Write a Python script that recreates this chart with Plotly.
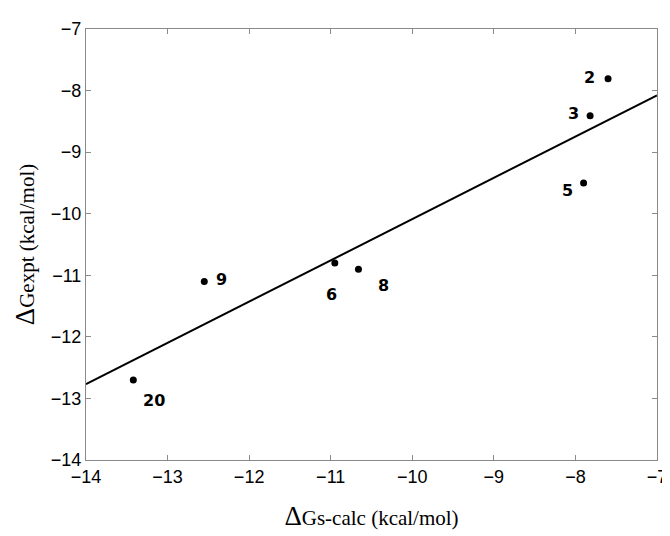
import numpy as np
import plotly.graph_objects as go

labels = ["2", "3", "5", "9", "6", "8", "20"]
dg_calc = [-7.60, -7.82, -7.90, -12.55, -10.95, -10.66, -13.42]
dg_expt = [-7.81, -8.41, -9.50, -11.10, -10.80, -10.90, -12.70]
x_ticks = [-14, -13, -12, -11, -10, -9, -8, -7]
y_ticks = [-14, -13, -12, -11, -10, -9, -8, -7]

# label offsets in pixels (dx, dy)
label_dx = [-19, -17, -16, 17, -3, 25, 21]
label_dy = [1, 2, -8, 2, -32, -16, -21]

slope, intercept = np.polyfit(dg_calc, dg_expt, 1)
line_x = np.array([x_ticks[0], x_ticks[-1]], dtype=float)
line_y = slope * line_x + intercept

fig = go.Figure()
fig.add_trace(go.Scatter(x=line_x, y=line_y, mode="lines",
                         line=dict(color="black", width=2), showlegend=False))
fig.add_trace(go.Scatter(x=dg_calc, y=dg_expt, mode="markers",
                         marker=dict(color="black", size=7), showlegend=False))

for lab, x, y, dx, dy in zip(labels, dg_calc, dg_expt, label_dx, label_dy):
    fig.add_annotation(x=x, y=y, text="<b>" + lab + "</b>", showarrow=False,
                       xshift=dx, yshift=dy,
                       font=dict(family="DejaVu Sans", size=16, color="black"))

axis_common = dict(
    showgrid=False, zeroline=False, showline=True, linecolor="#8a8a8a", linewidth=1,
    mirror="ticks", ticks="inside", ticklen=5, tickcolor="#8a8a8a",
    tickfont=dict(family="Liberation Sans", size=18, color="black"),
)

fig.update_layout(
    width=670, height=536,
    paper_bgcolor="white", plot_bgcolor="white",
    margin=dict(l=78, r=12, t=11, b=84),
    xaxis=dict(range=[-14, -7], tickvals=x_ticks, **axis_common,
               title=dict(text="<span style='font-size:27px'>Δ</span>Gs-calc (kcal/mol)",
                          font=dict(family="Liberation Serif", size=21, color="black"),
                          standoff=24)),
    yaxis=dict(range=[-14, -7], tickvals=y_ticks, **axis_common,
               title=dict(text="<span style='font-size:27px'>Δ</span>Gexpt (kcal/mol)",
                          font=dict(family="Liberation Serif", size=21, color="black"),
                          standoff=10)),
)

fig.write_html("out.html")
